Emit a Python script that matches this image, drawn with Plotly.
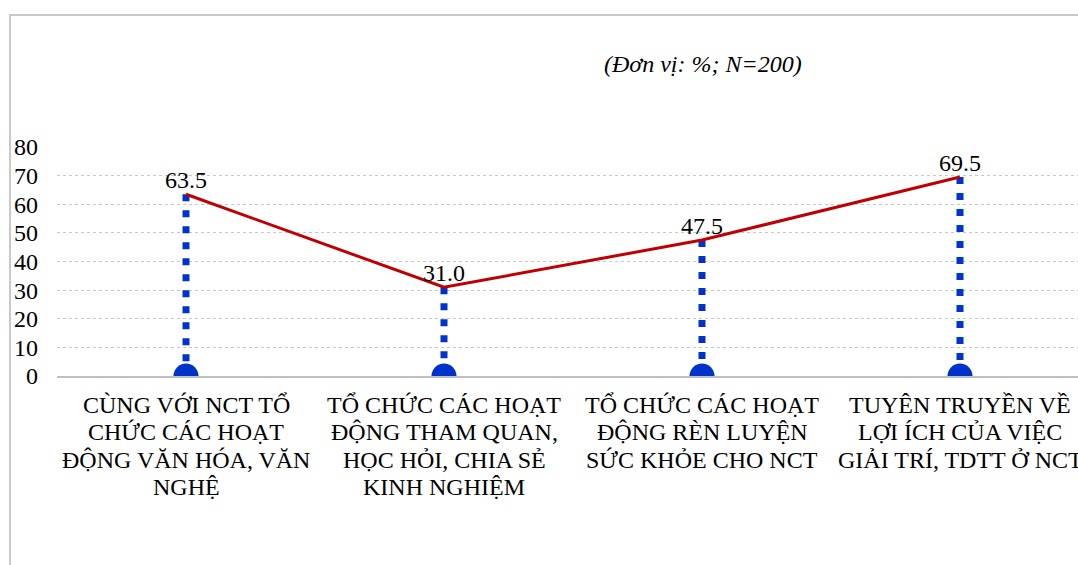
import plotly.graph_objects as go

# Survey results: share of respondents (%) per activity
categories = ["cat1", "cat2", "cat3", "cat4"]
category_lines = [
    ["CÙNG VỚI NCT TỔ", "CHỨC CÁC HOẠT", "ĐỘNG VĂN HÓA, VĂN", "NGHỆ"],
    ["TỔ CHỨC CÁC HOẠT", "ĐỘNG THAM QUAN,", "HỌC HỎI, CHIA SẺ", "KINH NGHIỆM"],
    ["TỔ CHỨC CÁC HOẠT", "ĐỘNG RÈN LUYỆN", "SỨC KHỎE CHO NCT"],
    ["TUYÊN TRUYỀN VỀ", "LỢI ÍCH CỦA VIỆC", "GIẢI TRÍ, TDTT Ở NCT"],
]
values = [63.5, 31.0, 47.5, 69.5]
y_ticks = [0, 10, 20, 30, 40, 50, 60, 70, 80]
unit_note = "(Đơn vị: %; N=200)"

FONT = "'Liberation Serif', 'Times New Roman', Times, serif"
RED = "#C00000"
BLUE = "#0033CC"

W, H = 1078, 565
ML, MR, MT, MB = 57, 0, 147, 189
plot_w = W - ML - MR
plot_h = H - MT - MB
step = 258.0  # px per category slot

fig = go.Figure()

# dotted drop lines from each point down to the axis
for c, v in zip(categories, values):
    fig.add_trace(go.Scatter(
        x=[c, c], y=[v, 0], mode="lines",
        line=dict(color=BLUE, width=7, dash="7px,9px"),
        hoverinfo="skip", showlegend=False,
    ))

# half-disc markers sitting on the axis (clipped by the plot area)
fig.add_trace(go.Scatter(
    x=categories, y=[0] * len(categories), mode="markers",
    marker=dict(color=BLUE, size=25, line=dict(width=0)),
    cliponaxis=True, hoverinfo="skip", showlegend=False,
))

# main line with value labels
fig.add_trace(go.Scatter(
    x=categories, y=values, mode="lines+text",
    line=dict(color=RED, width=3),
    text=[f"{v:.1f}" for v in values],
    textposition="top center",
    textfont=dict(family=FONT, size=24, color="black"),
    cliponaxis=False, showlegend=False,
))

annotations = []
line_gap = 27.3
for c, lines in zip(categories, category_lines):
    for i, t in enumerate(lines):
        annotations.append(dict(
            x=c, y=0, xref="x", yref="y", text=t, showarrow=False,
            xanchor="center", yanchor="middle",
            yshift=-(29 + i * line_gap),
            font=dict(family=FONT, size=24, color="black"),
        ))

annotations.append(dict(
    x=(703 - ML) / plot_w, y=(MT + plot_h - 64) / plot_h,
    xref="paper", yref="paper", text=f"<i>{unit_note}</i>", showarrow=False,
    xanchor="center", yanchor="middle",
    font=dict(family=FONT, size=24, color="black"),
))

# chart-area border (left and top edges visible)
fig.add_shape(
    type="rect", xref="paper", yref="paper",
    x0=(10 - ML) / plot_w, x1=1.2,
    y0=-2, y1=(MT + plot_h - 15) / plot_h,
    line=dict(color="#c9c9c9", width=2), fillcolor="rgba(0,0,0,0)",
    layer="below",
)

fig.update_layout(
    width=W, height=H,
    margin=dict(l=ML, r=MR, t=MT, b=MB, pad=0),
    paper_bgcolor="white", plot_bgcolor="white",
    font=dict(family=FONT),
    annotations=annotations,
    xaxis=dict(
        type="category", categoryorder="array", categoryarray=categories,
        range=[-0.5, -0.5 + plot_w / step],
        showticklabels=False, showgrid=False, zeroline=False,
        showline=True, linecolor="#bfbfbf", linewidth=2, ticks="",
        fixedrange=True,
    ),
    yaxis=dict(
        range=[0, 80], tickvals=y_ticks, ticktext=[str(t) for t in y_ticks],
        showgrid=True, gridcolor="#c8c8c8", griddash="dot", gridwidth=1,
        zeroline=False, showline=False, ticks="",
        tickfont=dict(family=FONT, size=24, color="black"),
        ticklabelstandoff=18,
        fixedrange=True,
    ),
)

fig.write_html("out.html", config={"displayModeBar": False})
